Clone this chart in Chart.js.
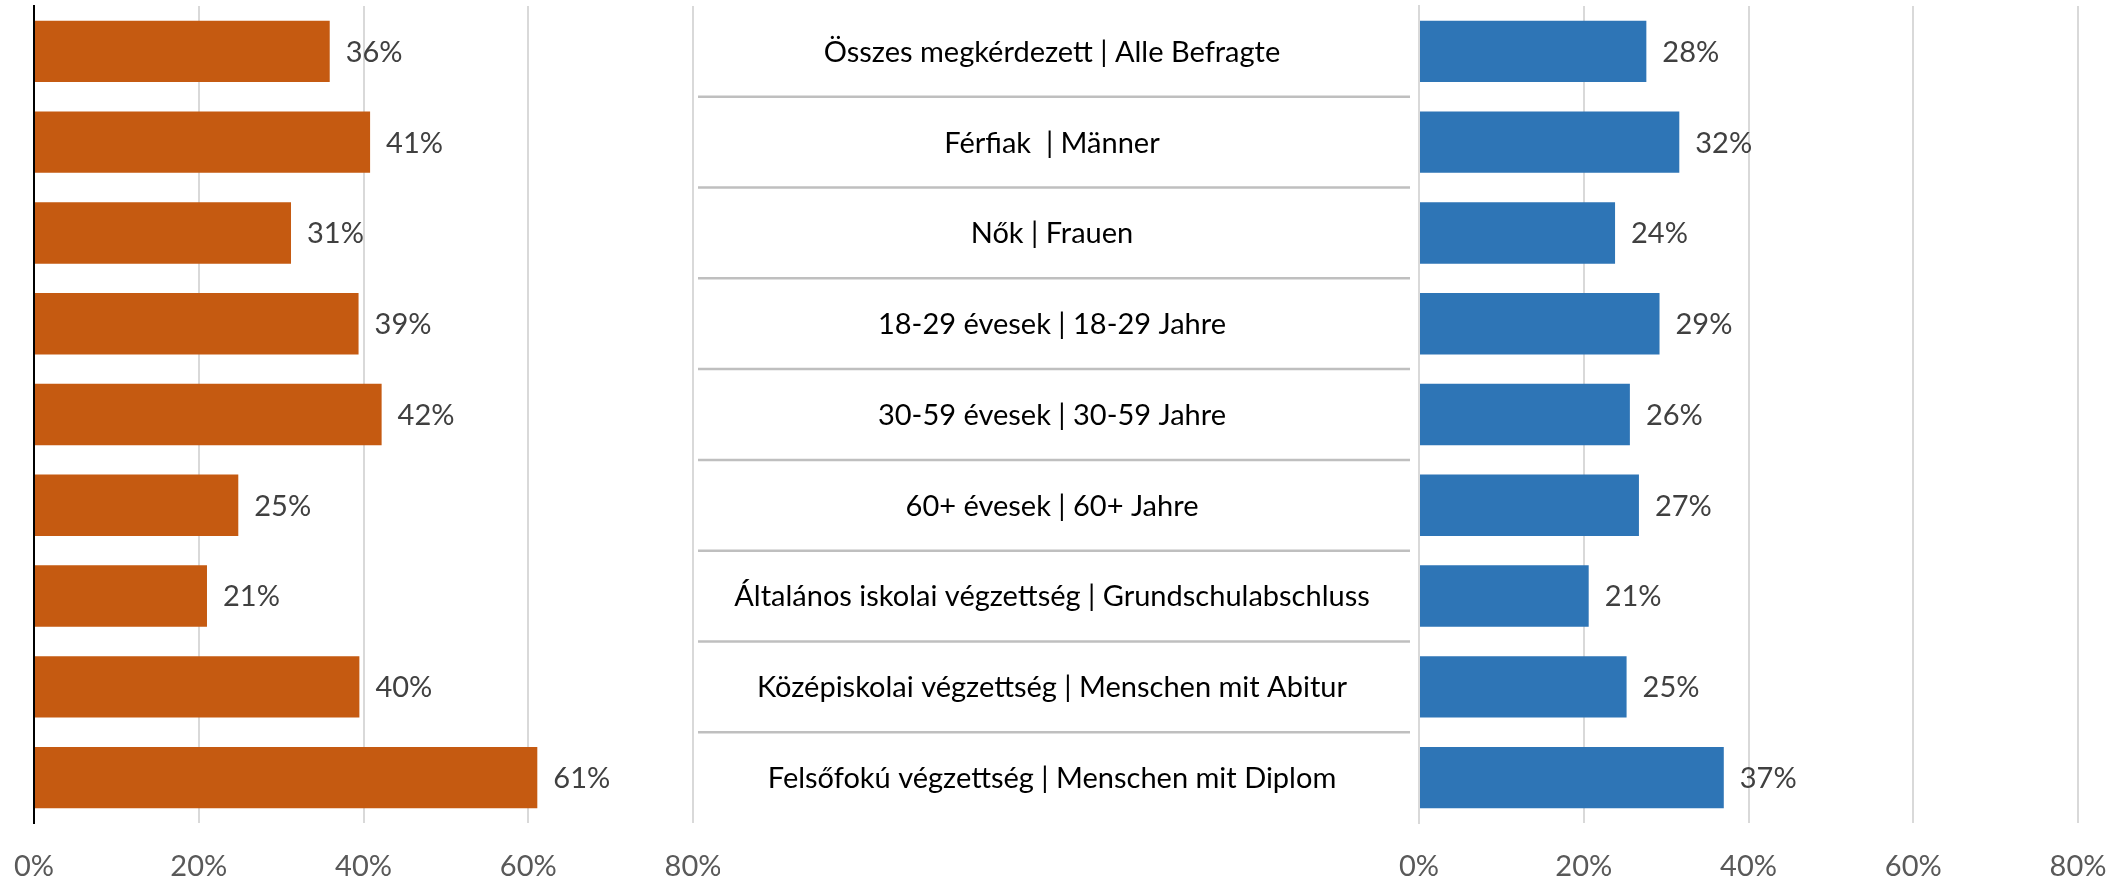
<!DOCTYPE html>
<html>
<head>
<meta charset="utf-8">
<script src="https://cdn.jsdelivr.net/npm/chart.js@4/dist/chart.umd.min.js"></script>
<style>
  html, body { margin: 0; padding: 0; background: #ffffff; }
  body { width: 2119px; height: 880px; position: relative; overflow: hidden; }
  .wrap { position: absolute; top: 0; height: 880px; }
  #wl { left: 0; width: 720px; }
  #wr { left: 690px; width: 1429px; }
</style>
</head>
<body>
<div class="wrap" id="wl"><canvas id="cl"></canvas></div>
<div class="wrap" id="wr"><canvas id="cr"></canvas></div>
<script>
const categories = [
  "Összes megkérdezett | Alle Befragte",
  "Férfiak  | Männer",
  "Nők | Frauen",
  "18-29 évesek | 18-29 Jahre",
  "30-59 évesek | 30-59 Jahre",
  "60+ évesek | 60+ Jahre",
  "Általános iskolai végzettség | Grundschulabschluss",
  "Középiskolai végzettség | Menschen mit Abitur",
  "Felsőfokú végzettség | Menschen mit Diplom"
];
const valuesLeft  = [35.9, 40.8, 31.2, 39.4, 42.2, 24.8, 21.0, 39.5, 61.1];
const valuesRight = [27.6, 31.6, 23.8, 29.2, 25.6, 26.7, 20.6, 25.2, 37.0];
const labelsLeft  = ["36%", "41%", "31%", "39%", "42%", "25%", "21%", "40%", "61%"];
const labelsRight = ["28%", "32%", "24%", "29%", "26%", "27%", "21%", "25%", "37%"];
const tickValues  = [0, 20, 40, 60, 80];

const FONT = "Lato, 'Open Sans', sans-serif";
const FSIZE = 29;

const valueLabelPlugin = {
  id: 'valueLabels',
  afterDatasetsDraw(chart) {
    const ctx = chart.ctx;
    const meta = chart.getDatasetMeta(0);
    const texts = chart.options.plugins.valueLabels.texts;
    ctx.save();
    ctx.font = FSIZE + "px " + FONT;
    ctx.fillStyle = "#404040";
    ctx.textAlign = "left";
    ctx.textBaseline = "middle";
    meta.data.forEach((bar, i) => {
      ctx.fillText(texts[i], bar.x + 16, bar.y + 1);
    });
    ctx.restore();
  }
};

const middlePlugin = {
  id: 'middleLabels',
  afterDraw(chart) {
    const o = chart.options.plugins.middleLabels;
    if (!o || !o.enabled) return;
    const ctx = chart.ctx;
    const y = chart.scales.y;
    ctx.save();
    ctx.strokeStyle = "#bfbfbf";
    ctx.lineWidth = 2.5;
    for (let i = 0; i < categories.length - 1; i++) {
      const py = (y.getPixelForValue(i) + y.getPixelForValue(i + 1)) / 2;
      ctx.beginPath();
      ctx.moveTo(o.x0, py);
      ctx.lineTo(o.x1, py);
      ctx.stroke();
    }
    ctx.font = FSIZE + "px " + FONT;
    ctx.fillStyle = "#000000";
    ctx.textAlign = "center";
    ctx.textBaseline = "middle";
    categories.forEach((c, i) => {
      ctx.fillText(c, o.cx, y.getPixelForValue(i) + 1);
    });
    ctx.restore();
  }
};

function makeOptions(opts) {
  return {
    indexAxis: 'y',
    responsive: true,
    maintainAspectRatio: false,
    animation: false,
    layout: { padding: opts.padding },
    plugins: {
      legend: { display: false },
      tooltip: { enabled: false },
      valueLabels: { texts: opts.texts },
      middleLabels: opts.middle || { enabled: false }
    },
    scales: {
      x: {
        min: 0, max: 80,
        afterBuildTicks(scale) { scale.ticks = tickValues.map(v => ({ value: v })); },
        afterFit(scale) {
          scale.height = 57;
          scale.paddingLeft = 0;
          scale.paddingRight = 0;
        },
        ticks: {
          padding: 26,
          color: "#595959",
          font: { family: FONT, size: FSIZE },
          callback: v => v + "%",
          maxRotation: 0
        },
        grid: { color: "#d9d9d9", lineWidth: 2, drawTicks: false },
        border: { display: false }
      },
      y: {
        type: 'category',
        labels: categories,
        afterFit(scale) { scale.width = opts.yWidth; },
        ticks: { display: false },
        grid: { display: false, drawTicks: false },
        border: { display: true, color: opts.axisColor, width: 2 }
      }
    }
  };
}

new Chart(document.getElementById('cl'), {
  type: 'bar',
  data: {
    labels: categories,
    datasets: [{
      data: valuesLeft,
      backgroundColor: "#c55a11",
      borderWidth: 0,
      categoryPercentage: 1.0,
      barPercentage: 0.676
    }]
  },
  options: makeOptions({
    padding: { left: 34, right: 27, top: 6, bottom: 0 },
    texts: labelsLeft,
    yWidth: 0,
    axisColor: "#000000"
  }),
  plugins: [valueLabelPlugin]
});

new Chart(document.getElementById('cr'), {
  type: 'bar',
  data: {
    labels: categories,
    datasets: [{
      data: valuesRight,
      backgroundColor: "#2e75b6",
      borderWidth: 0,
      categoryPercentage: 1.0,
      barPercentage: 0.676
    }]
  },
  options: makeOptions({
    padding: { left: 0, right: 41, top: 6, bottom: 0 },
    texts: labelsRight,
    yWidth: 729,
    axisColor: "#d9d9d9",
    middle: { enabled: true, x0: 8, x1: 720, cx: 362 }
  }),
  plugins: [valueLabelPlugin, middlePlugin]
});
</script>
</body>
</html>
